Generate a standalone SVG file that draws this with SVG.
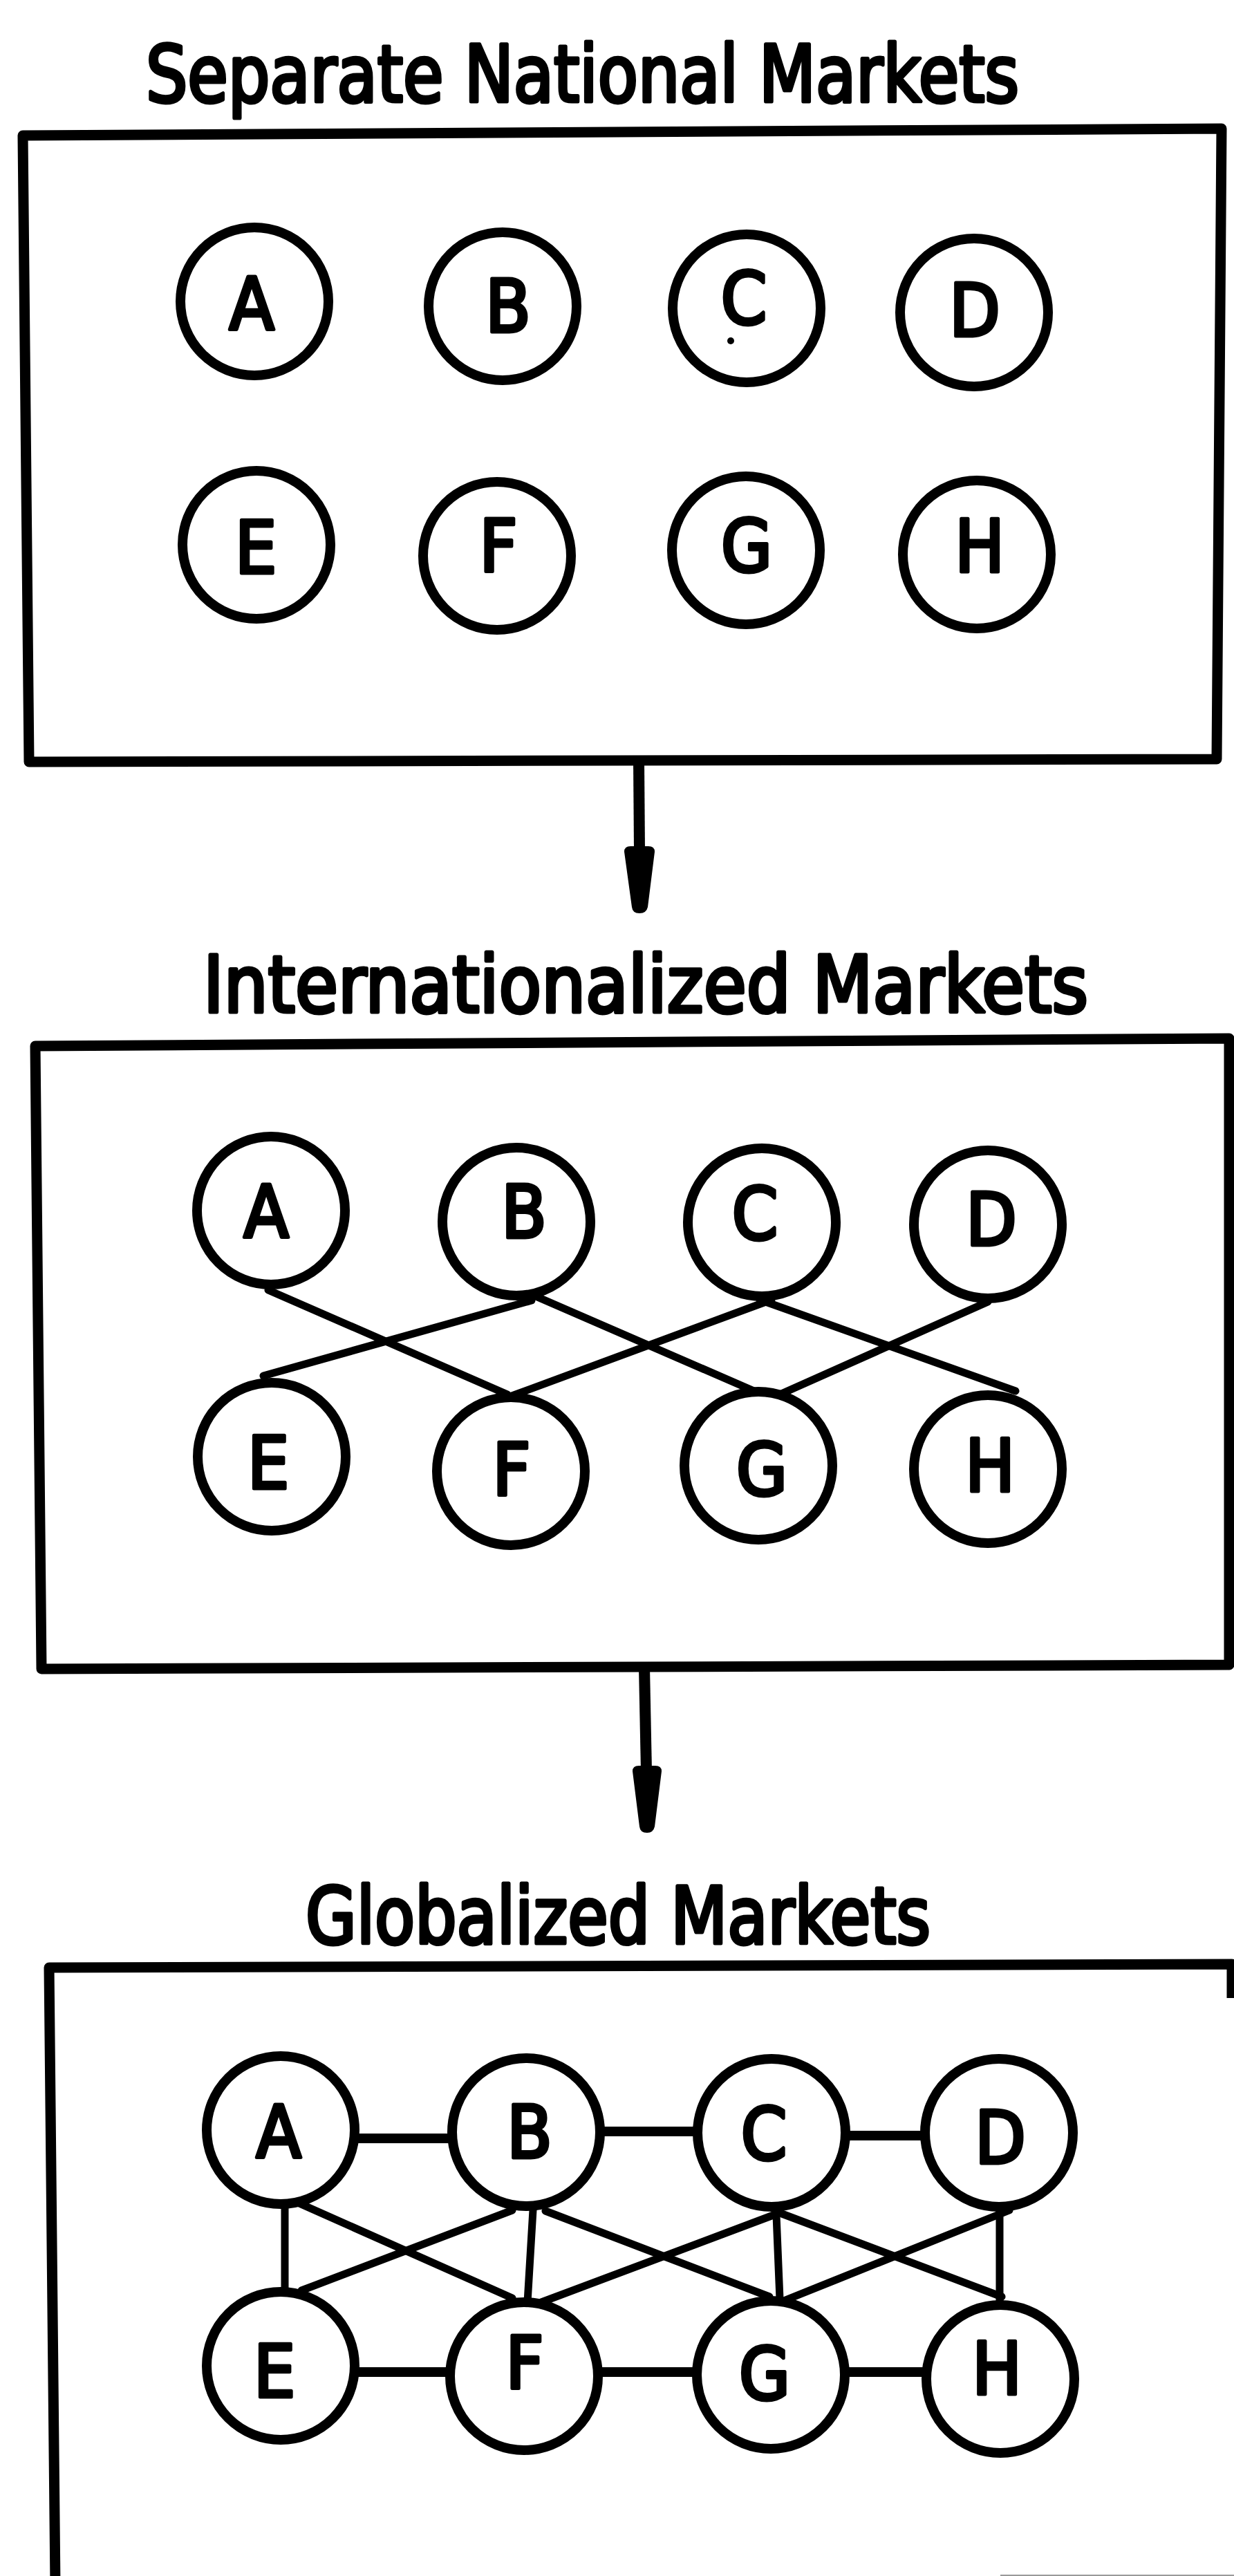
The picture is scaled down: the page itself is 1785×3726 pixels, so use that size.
<svg xmlns="http://www.w3.org/2000/svg" width="1785" height="3726" viewBox="0 0 1785 3726">
<style>
.title{font-family:"DejaVu Sans Condensed","DejaVu Sans","Liberation Sans Narrow",sans-serif;font-stretch:condensed;font-size:114px;fill:#000;stroke:#000;stroke-width:5;stroke-linejoin:round}
.lbl{font-family:"DejaVu Sans Condensed","DejaVu Sans","Liberation Sans Narrow",sans-serif;font-stretch:condensed;font-size:106px;fill:#000;stroke:#000;stroke-width:5;stroke-linejoin:round;text-anchor:middle}
.box{fill:none;stroke:#000;stroke-width:15;stroke-linejoin:round}
.node{fill:#fff;stroke:#000;stroke-width:14}
.cx{stroke:#000;stroke-width:11;stroke-linecap:round;fill:none}
.hz{stroke:#000;stroke-width:14;stroke-linecap:round;fill:none}
.shaft{stroke:#000;stroke-width:16;stroke-linecap:butt;fill:none}
</style>
<rect width="1785" height="3726" fill="#fff"/>

<g id="titles">
<text class="title" x="211" y="147" textLength="1263" lengthAdjust="spacingAndGlyphs">Separate National Markets</text>
<text class="title" x="294" y="1464" textLength="1280" lengthAdjust="spacingAndGlyphs">Internationalized Markets</text>
<text class="title" x="442" y="2811" textLength="904" lengthAdjust="spacingAndGlyphs">Globalized Markets</text>
</g>

<g id="frames">
<path class="box" d="M33,196 L1767,186 L1760,1098 L42,1102 Z"/>
<path class="box" d="M51,1513 L1778,1502 L1778,2408 L60,2414 Z"/>
<path class="box" d="M1782,2890 L1782,2841 L71,2846 L80,3740"/>
<line x1="1447" y1="3725" x2="1785" y2="3725" stroke="#999" stroke-width="2"/>
</g>

<g id="connectors">
<!-- arrows between stages -->
<line class="shaft" x1="924" y1="1100" x2="925" y2="1232"/>
<path d="M903,1232 Q903,1224 912,1224 L938,1224 Q947,1224 947,1232 L937,1312 Q935,1321 925,1321 Q915,1321 914,1312 Z" fill="#000"/>
<line class="shaft" x1="932" y1="2412" x2="935" y2="2562"/>
<path d="M915,2562 Q915,2554 924,2554 L948,2554 Q957,2554 957,2562 L947,2642 Q945,2651 936,2651 Q926,2651 925,2642 Z" fill="#000"/>

<!-- internationalized markets -->
<line class="cx" x1="388" y1="1866" x2="734" y2="2017"/>
<line class="cx" x1="769" y1="1881" x2="381" y2="1990"/>
<line class="cx" x1="775" y1="1875" x2="1093" y2="2013"/>
<line class="cx" x1="1116" y1="1880" x2="735" y2="2021"/>
<line class="cx" x1="1099" y1="1880" x2="1469" y2="2012"/>
<line class="cx" x1="1429" y1="1883" x2="1128" y2="2017"/>

<!-- globalized markets -->
<line class="hz" x1="500" y1="3093" x2="670" y2="3093"/>
<line class="hz" x1="850" y1="3083" x2="1030" y2="3083"/>
<line class="hz" x1="1200" y1="3089" x2="1360" y2="3089"/>
<line class="hz" x1="500" y1="3431" x2="670" y2="3431"/>
<line class="hz" x1="850" y1="3431" x2="1030" y2="3431"/>
<line class="hz" x1="1200" y1="3431" x2="1360" y2="3431"/>
<line class="cx" x1="412" y1="3180" x2="412" y2="3320"/>
<line class="cx" x1="772" y1="3180" x2="763" y2="3330"/>
<line class="cx" x1="1122" y1="3180" x2="1128" y2="3325"/>
<line class="cx" x1="1446" y1="3180" x2="1446" y2="3330"/>
<line class="cx" x1="433" y1="3187" x2="741" y2="3324"/>
<line class="cx" x1="741" y1="3197" x2="436" y2="3313"/>
<line class="cx" x1="789" y1="3198" x2="1113" y2="3322"/>
<line class="cx" x1="1124" y1="3202" x2="783" y2="3330"/>
<line class="cx" x1="1131" y1="3202" x2="1449" y2="3322"/>
<line class="cx" x1="1460" y1="3197" x2="1136" y2="3327"/>
</g>

<!-- Separate National Markets -->
<g id="n1A"><circle class="node" cx="368" cy="436" r="107"/><text class="lbl" x="364" y="477">A</text></g>
<g id="n1B"><circle class="node" cx="727" cy="443" r="107"/><text class="lbl" x="735" y="480">B</text></g>
<g id="n1C"><circle class="node" cx="1080" cy="446" r="107"/><text class="lbl" x="1076" y="469">C</text><circle cx="1057" cy="493" r="5" fill="#000"/></g>
<g id="n1D"><circle class="node" cx="1409" cy="452" r="107"/><text class="lbl" x="1410" y="486">D</text></g>
<g id="n1E"><circle class="node" cx="371" cy="788" r="107"/><text class="lbl" x="370" y="829">E</text></g>
<g id="n1F"><circle class="node" cx="719" cy="804" r="107"/><text class="lbl" x="721" y="827">F</text></g>
<g id="n1G"><circle class="node" cx="1079" cy="796" r="107"/><text class="lbl" x="1080" y="827">G</text></g>
<g id="n1H"><circle class="node" cx="1413" cy="802" r="107"/><text class="lbl" x="1417" y="827">H</text></g>

<!-- Internationalized Markets -->
<g id="n2A"><circle class="node" cx="392" cy="1751" r="107"/><text class="lbl" x="385" y="1790">A</text></g>
<g id="n2B"><circle class="node" cx="747" cy="1767" r="107"/><text class="lbl" x="758" y="1790">B</text></g>
<g id="n2C"><circle class="node" cx="1102" cy="1768" r="107"/><text class="lbl" x="1092" y="1793">C</text></g>
<g id="n2D"><circle class="node" cx="1429" cy="1771" r="107"/><text class="lbl" x="1434" y="1801">D</text></g>
<g id="n2E"><circle class="node" cx="393" cy="2107" r="107"/><text class="lbl" x="388" y="2153">E</text></g>
<g id="n2F"><circle class="node" cx="739" cy="2128" r="107"/><text class="lbl" x="740" y="2163">F</text></g>
<g id="n2G"><circle class="node" cx="1097" cy="2120" r="107"/><text class="lbl" x="1102" y="2163">G</text></g>
<g id="n2H"><circle class="node" cx="1429" cy="2125" r="107"/><text class="lbl" x="1432" y="2157">H</text></g>

<!-- Globalized Markets -->
<g id="n3A"><circle class="node" cx="406" cy="3081" r="107"/><text class="lbl" x="403" y="3121">A</text></g>
<g id="n3B"><circle class="node" cx="761" cy="3084" r="107"/><text class="lbl" x="766" y="3121">B</text></g>
<g id="n3C"><circle class="node" cx="1116" cy="3085" r="107"/><text class="lbl" x="1105" y="3124">C</text></g>
<g id="n3D"><circle class="node" cx="1445" cy="3085" r="107"/><text class="lbl" x="1447" y="3129">D</text></g>
<g id="n3E"><circle class="node" cx="406" cy="3422" r="107"/><text class="lbl" x="397" y="3467">E</text></g>
<g id="n3F"><circle class="node" cx="758" cy="3437" r="107"/><text class="lbl" x="759" y="3455">F</text></g>
<g id="n3G"><circle class="node" cx="1115" cy="3435" r="107"/><text class="lbl" x="1106" y="3471">G</text></g>
<g id="n3H"><circle class="node" cx="1447" cy="3441" r="107"/><text class="lbl" x="1442" y="3463">H</text></g>
</svg>
